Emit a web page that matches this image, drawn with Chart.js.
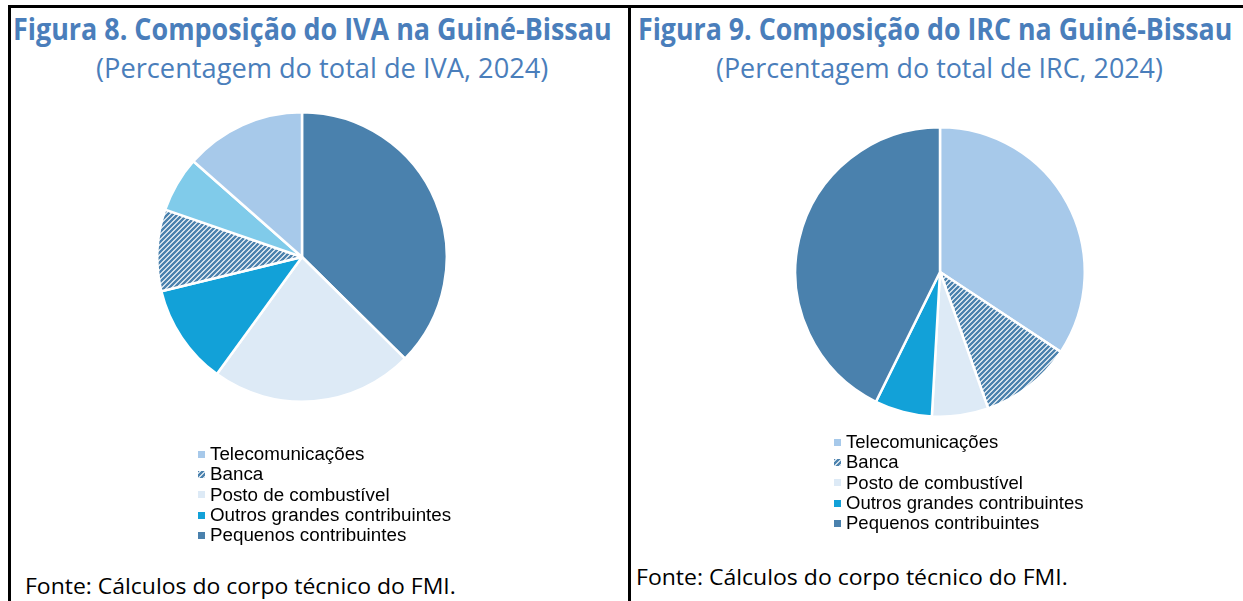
<!DOCTYPE html>
<html>
<head>
<meta charset="utf-8">
<script src="https://cdn.jsdelivr.net/npm/chart.js@4"></script>
<style>
  body { margin: 0; width: 1243px; height: 601px; background: #fff; position: relative; overflow: hidden; font-family: "Open Sans", sans-serif; }
  .line { position: absolute; background: #000; }
  .t { position: absolute; white-space: nowrap; transform-origin: 0 0; line-height: 1; }
  .title { color: #4A7EBB; font-weight: 700; font-size: 30px; }
  .sub { color: #4A7EBB; font-size: 28px; }
  .src { color: #000; font-size: 22px; }
  .pie { position: absolute; }
  .legend { position: absolute; font-family: "Liberation Sans", Arial, sans-serif; font-size: 18.5px; line-height: 20.3px; color: #000; }
  .legend div { display: flex; align-items: center; white-space: nowrap; }
  .legend canvas { width: 7px; height: 7px; margin-right: 5px; }
</style>
</head>
<body>
<div class="line" style="left:8px;top:5px;width:1235px;height:3px"></div>
<div class="line" style="left:8px;top:5px;width:3px;height:596px"></div>
<div class="line" style="left:628px;top:5px;width:3px;height:596px"></div>

<div class="t title" data-x="13" data-w="599" style="top:14px">Figura 8. Composição do IVA na Guiné-Bissau</div>
<div class="t sub" data-x="96" data-w="452" style="top:53px">(Percentagem do total de IVA, 2024)</div>
<div class="t title" data-x="638" data-w="594" style="top:14px">Figura 9. Composição do IRC na Guiné-Bissau</div>
<div class="t sub" data-x="716" data-w="447" style="top:53px">(Percentagem do total de IRC, 2024)</div>
<div class="t src" data-x="25" data-w="431" style="top:574px">Fonte: Cálculos do corpo técnico do FMI.</div>
<div class="t src" data-x="636" data-w="432" style="top:565px">Fonte: Cálculos do corpo técnico do FMI.</div>

<canvas id="pie-iva" class="pie" width="292" height="292" style="left:156px;top:111px"></canvas>
<canvas id="pie-irc" class="pie" width="292" height="292" style="left:794px;top:126px"></canvas>
<div id="legend-iva" class="legend" style="left:198px;top:444px;font-size:18.8px"></div>
<div id="legend-irc" class="legend" style="left:834px;top:432px"></div>

<script>
// IVA slices, clockwise from 12 o'clock (one slice has no legend entry)
const ivaLabels = ['Pequenos contribuintes', 'Posto de combustível', 'Outros grandes contribuintes', 'Banca', '', 'Telecomunicações'];
const ivaValues = [37.4, 22.6, 11.2, 9.1, 6.2, 13.5];

// IRC slices, clockwise from 12 o'clock
const ircLabels = ['Telecomunicações', 'Banca', 'Posto de combustível', 'Outros grandes contribuintes', 'Pequenos contribuintes'];
const ircValues = [34.3, 10.3, 6.3, 6.4, 42.7];

const legendOrder = ['Telecomunicações', 'Banca', 'Posto de combustível', 'Outros grandes contribuintes', 'Pequenos contribuintes'];

const sliceColors = {
  'Telecomunicações': '#A7C9EA',
  'Banca': 'hatch',
  'Posto de combustível': '#DDEAF6',
  'Outros grandes contribuintes': '#12A1D8',
  'Pequenos contribuintes': '#4A81AD',
  '': '#80CBEA'
};

function makeHatch() {
  const c = document.createElement('canvas');
  c.width = 5; c.height = 5;
  const x = c.getContext('2d');
  x.fillStyle = '#fff'; x.fillRect(0, 0, 5, 5);
  x.strokeStyle = '#4A81AD'; x.lineWidth = 2.4;
  x.beginPath();
  x.moveTo(0, 5); x.lineTo(5, 0);
  x.moveTo(-1, 1); x.lineTo(1, -1);
  x.moveTo(4, 6); x.lineTo(6, 4);
  x.stroke();
  return x.createPattern(c, 'repeat');
}
const hatch = makeHatch();
const fillFor = name => sliceColors[name] === 'hatch' ? hatch : sliceColors[name];

function makePie(id, labels, values) {
  return new Chart(document.getElementById(id), {
    type: 'pie',
    data: { labels, datasets: [{
      data: values,
      backgroundColor: labels.map(fillFor),
      borderColor: '#fff',
      borderWidth: 2.5
    }]},
    options: {
      responsive: false, animation: false,
      layout: { padding: 0 },
      plugins: { legend: { display: false }, tooltip: { enabled: false } }
    }
  });
}

function renderLegend(id, chart) {
  const el = document.getElementById(id);
  const labels = chart.data.labels;
  const bg = chart.data.datasets[0].backgroundColor;
  el.innerHTML = '';
  for (const name of legendOrder) {
    const i = labels.indexOf(name);
    if (i < 0) continue;
    const row = document.createElement('div');
    const box = document.createElement('canvas');
    box.width = 7; box.height = 7;
    const bx = box.getContext('2d');
    bx.fillStyle = bg[i]; bx.fillRect(0, 0, 7, 7);
    row.appendChild(box);
    row.appendChild(document.createTextNode(labels[i]));
    el.appendChild(row);
  }
}

const ivaChart = makePie('pie-iva', ivaLabels, ivaValues);
const ircChart = makePie('pie-irc', ircLabels, ircValues);
renderLegend('legend-iva', ivaChart);
renderLegend('legend-irc', ircChart);

function fitTexts() {
  document.querySelectorAll('.t').forEach(el => {
    el.style.left = el.dataset.x + 'px';
    el.style.transform = 'none';
    const w = el.offsetWidth;
    el.style.transform = `scaleX(${el.dataset.w / w})`;
  });
}
fitTexts();
document.fonts.ready.then(fitTexts);
</script>
</body>
</html>
